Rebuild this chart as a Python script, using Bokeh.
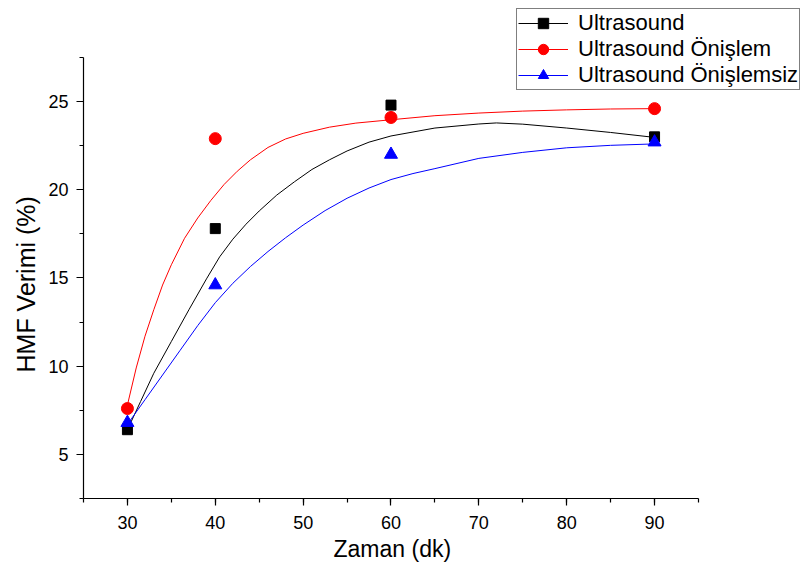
from bokeh.plotting import figure
from bokeh.models import Range1d, SingleIntervalTicker, Legend, LegendItem, Title
from bokeh.embed import file_html
from bokeh.resources import INLINE

# measured points
time_min = [30, 40, 60, 90]
ultrasound = [6.4, 17.8, 24.8, 23.0]
ultrasound_onislem = [7.6, 22.9, 24.1, 24.6]
ultrasound_onislemsiz = [6.8, 14.6, 22.0, 22.7]

# fitted curves
fit_x_black = [30, 31.5, 33, 35, 37, 39, 40.5, 42, 43.5, 45, 47, 49, 51, 53, 55, 57.5, 60, 65, 70, 72, 75, 80, 85, 90]
fit_y_black = [6.4, 8.0, 9.6, 11.4, 13.2, 14.95, 16.2, 17.2, 18.05, 18.8, 19.7, 20.45, 21.15, 21.7, 22.2, 22.7, 23.05, 23.5, 23.73, 23.79, 23.72, 23.5, 23.25, 22.97]

fit_x_red = [30, 31, 32, 33, 34, 35, 36.5, 38, 39.5, 41, 42.5, 44, 46, 48, 50, 53, 56, 60, 65, 70, 75, 80, 85, 90]
fit_y_red = [7.8, 9.9, 11.7, 13.2, 14.6, 15.75, 17.25, 18.4, 19.4, 20.3, 21.05, 21.7, 22.4, 22.88, 23.2, 23.55, 23.78, 23.97, 24.2, 24.35, 24.46, 24.53, 24.58, 24.6]

fit_x_blue = [30, 32, 34, 36, 38, 40, 42, 44, 46, 48, 50, 52.5, 55, 57.5, 60, 62.5, 65, 70, 75, 80, 85, 90]
fit_y_blue = [6.7, 8.1, 9.5, 10.9, 12.3, 13.6, 14.7, 15.65, 16.5, 17.28, 18.0, 18.82, 19.52, 20.1, 20.58, 20.92, 21.2, 21.78, 22.12, 22.38, 22.52, 22.6]

x_title = "Zaman (dk)"
y_title = "HMF Verimi (%)"
names = ["Ultrasound", "Ultrasound Önişlem", "Ultrasound Önişlemsiz"]

x_axis_bounds = (25, 95)
y_axis_bounds = (2.5, 27.5)

FONT = "Liberation Sans"

# the frame reaches the top and right edges so the legend can sit there;
# axes are limited to their bounds
p = figure(width=802, height=570, output_backend="svg", toolbar_location=None,
           x_range=Range1d(25, 106.84), y_range=Range1d(2.5, 30.73),
           min_border_left=83, min_border_right=0, min_border_top=0, min_border_bottom=72)
p.xgrid.visible = False
p.ygrid.visible = False
p.outline_line_color = None
p.background_fill_color = "white"
p.border_fill_color = "white"

p.xaxis.ticker = SingleIntervalTicker(interval=10, num_minor_ticks=2)
p.yaxis.ticker = SingleIntervalTicker(interval=5, num_minor_ticks=2)
p.xaxis.bounds = x_axis_bounds
p.yaxis.bounds = y_axis_bounds
for ax in (p.xaxis[0], p.yaxis[0]):
    ax.major_tick_in = 0
    ax.major_tick_out = 7
    ax.minor_tick_in = 0
    ax.minor_tick_out = 4
    ax.axis_line_color = "black"
    ax.major_tick_line_color = "black"
    ax.minor_tick_line_color = "black"
    ax.axis_line_width = 1.2
    ax.major_tick_line_width = 1.2
    ax.minor_tick_line_width = 1.2
    ax.major_label_text_font = FONT
    ax.major_label_text_font_size = "18px"
    ax.major_label_text_color = "black"
p.xaxis.major_label_standoff = 10
p.yaxis.major_label_standoff = 8

# axis titles, positioned along the axis extent
xt = Title(text=x_title, align="left", offset=250, text_font=FONT, text_font_size="23px",
           text_font_style="normal", text_color="black", standoff=4)
p.add_layout(xt, "below")
yt = Title(text=y_title, align="left", offset=126, text_font=FONT, text_font_size="25px",
           text_font_style="normal", text_color="black", standoff=12)
p.add_layout(yt, "left")

lb = p.line(fit_x_black, fit_y_black, line_color="black", line_width=1)
lr = p.line(fit_x_red, fit_y_red, line_color="red", line_width=1)
lbl = p.line(fit_x_blue, fit_y_blue, line_color="blue", line_width=1)

sb = p.scatter(time_min, ultrasound, marker="square", size=10, fill_color="black", line_color="black")
sr = p.scatter(time_min, ultrasound_onislem, marker="circle", size=12, fill_color="red", line_color="red")
sbl = p.scatter(time_min, ultrasound_onislemsiz, marker="triangle", size=13, fill_color="blue", line_color="blue")

legend = Legend(items=[
    LegendItem(label=names[0], renderers=[lb, sb]),
    LegendItem(label=names[1], renderers=[lr, sr]),
    LegendItem(label=names[2], renderers=[lbl, sbl]),
], location=(433, 408), orientation="vertical",
    label_text_font=FONT, label_text_font_size="22px", label_text_color="black",
    glyph_width=50, glyph_height=26, label_height=26, label_standoff=10,
    spacing=0, padding=1, margin=0,
    border_line_color="black", border_line_width=1, background_fill_color="white",
    background_fill_alpha=1.0)
p.add_layout(legend)

open("out.html", "w").write(file_html(p, INLINE))
